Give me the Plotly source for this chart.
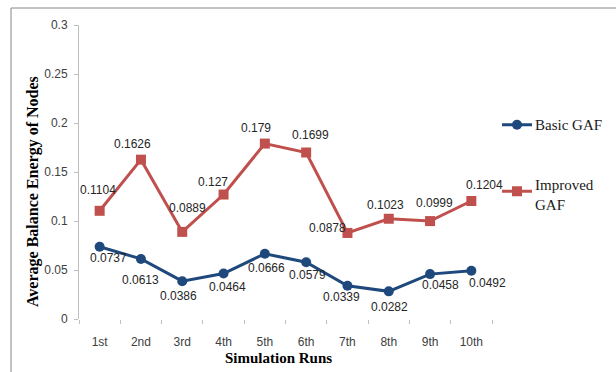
import plotly.graph_objects as go

runs = ["1st", "2nd", "3rd", "4th", "5th", "6th", "7th", "8th", "9th", "10th"]
basic_gaf = [0.0737, 0.0613, 0.0386, 0.0464, 0.0666, 0.0579, 0.0339, 0.0282, 0.0458, 0.0492]
improved_gaf = [0.1104, 0.1626, 0.0889, 0.127, 0.179, 0.1699, 0.0878, 0.1023, 0.0999, 0.1204]
series_names = ["Basic GAF", "Improved<br>GAF"]

# label offsets (pixels) for data labels
basic_dx = [9, 0, -4, 4, 2, 1, -6, 1, 10, 16]
basic_dy = [11, 21, 15, 13, 14, 13, 11, 16, 11, 12]
impr_dx = [-2, -8, 5, -11, -9, 4, -20, -3, 4, 13]
impr_dy = [-21, -16, -24, -13, -16, -18, -5, -14, -18, -16]

BLUE = "#1F497D"
RED = "#C0504D"
W, H = 616, 372
L, R, T, B = 79, 124, 25, 53
PW, PH = W - L - R, H - T - B
SERIF = "Liberation Serif, DejaVu Serif, serif"
SANS = "Liberation Sans"


def px_x(p):
    return (p - L) / PW


def px_y(p):
    return (H - B - p) / PH


fig = go.Figure()
fig.add_trace(go.Scatter(
    x=runs, y=basic_gaf, mode="lines+markers", name="\u00a0",
    line=dict(color=BLUE, width=3), marker=dict(symbol="circle", size=10, color=BLUE),
    legend="legend",
))
fig.add_trace(go.Scatter(
    x=runs, y=improved_gaf, mode="lines+markers", name="\u00a0",
    line=dict(color=RED, width=3), marker=dict(symbol="square", size=10, color=RED),
    legend="legend2",
))

annots = []
lab_font = dict(family=SANS, size=12, color="#262626")
for xs, ys, dxs, dys in [(runs, basic_gaf, basic_dx, basic_dy), (runs, improved_gaf, impr_dx, impr_dy)]:
    for xv, yv, dx, dy in zip(xs, ys, dxs, dys):
        annots.append(dict(x=xv, y=yv, xref="x", yref="y", text=str(yv), showarrow=False,
                           xshift=dx, yshift=-dy, font=lab_font))

annots.append(dict(x=px_x(33), y=px_y(192), xref="paper", yref="paper", text="<b>Average Balance Energy of Nodes</b>",
                   textangle=-90, showarrow=False, font=dict(family=SERIF, size=16, color="#000000"),
                   xanchor="center", yanchor="middle"))
annots.append(dict(x=px_x(278), y=px_y(358), xref="paper", yref="paper", text="<b>Simulation Runs</b>",
                   showarrow=False, font=dict(family=SERIF, size=15, color="#000000"),
                   xanchor="center", yanchor="middle"))

leg_font = dict(family=SERIF, size=15, color="#1a1a1a")
# legend labels as text
annots.append(dict(x=px_x(533), y=px_y(125), xref="paper", yref="paper", text=series_names[0],
                   showarrow=False, font=leg_font, xanchor="left", yanchor="middle", align="left"))
annots.append(dict(x=px_x(533), y=px_y(175), xref="paper", yref="paper", text=series_names[1],
                   showarrow=False, font=leg_font, xanchor="left", yanchor="top", align="left"))

fig.update_layout(
    width=W, height=H,
    margin=dict(l=L, r=R, t=T, b=B, autoexpand=False),
    paper_bgcolor="white", plot_bgcolor="white",
    font=dict(family=SERIF, size=15, color="#1a1a1a"),
    showlegend=True,
    legend=dict(x=px_x(497), y=px_y(125), xanchor="left", yanchor="middle", font=leg_font,
                bgcolor="rgba(0,0,0,0)", itemwidth=30, valign="top"),
    legend2=dict(x=px_x(497), y=px_y(175), xanchor="left", yanchor="top", font=leg_font,
                 bgcolor="rgba(0,0,0,0)", itemwidth=30, valign="top"),
    annotations=annots,
    shapes=[dict(type="rect", xref="paper", yref="paper",
                 x0=px_x(11), y0=px_y(390), x1=px_x(640), y1=px_y(8),
                 line=dict(color="#868686", width=1), fillcolor="rgba(0,0,0,0)", layer="below")],
)
fig.update_xaxes(
    type="category", range=[-0.5, len(runs) - 0.5], autorange=False,
    showgrid=False, showline=False, zeroline=False,
    ticks="outside", tickson="boundaries", ticklen=4, tickcolor="#bfbfbf",
    tickfont=dict(family=SANS, size=12, color="#404040"),
    ticklabelstandoff=14,
)
fig.update_yaxes(
    range=[0, 0.3], dtick=0.05, tick0=0, showgrid=False, zeroline=False,
    showline=True, linecolor="#bfbfbf", linewidth=1,
    ticks="outside", ticklen=4, tickcolor="#bfbfbf",
    tickfont=dict(family=SANS, size=12, color="#404040"),
    ticklabelstandoff=4,
)

fig.write_html("out.html")
